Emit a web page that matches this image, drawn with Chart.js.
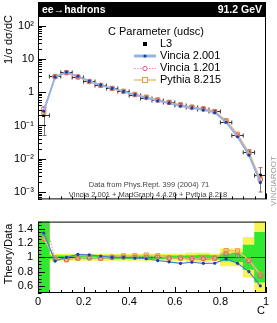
<!DOCTYPE html>
<html>
<head>
<meta charset="utf-8">
<script src="https://cdn.jsdelivr.net/npm/chart.js@4.4.1/dist/chart.umd.min.js"></script>
<style>
body { margin: 0; background: #fff; width: 277px; height: 323px; overflow: hidden; position: relative; }
canvas { position: absolute; left: 0; }
#main { top: 0; }
#ratio { top: 210px; }
</style>
</head>
<body>
<canvas id="main" width="277" height="210"></canvas>
<canvas id="ratio" width="277" height="113"></canvas>
<script>
// bin centres in C, bins are 0.05 wide
var binCentres = [0.025, 0.075, 0.125, 0.175, 0.225, 0.275, 0.325, 0.375, 0.425, 0.475,
                  0.525, 0.575, 0.625, 0.675, 0.725, 0.775, 0.825, 0.875, 0.925, 0.975];
var binHalf = 0.025;

// L3 data, 1/sigma dsigma/dC, with its error
var l3Data = [0.2, 3.0, 4.0, 2.9, 2.1, 1.62, 1.3, 1.05, 0.84, 0.69,
              0.575, 0.5, 0.42, 0.36, 0.32, 0.265, 0.128, 0.05, 0.016, 0.0032];
var l3Err = [0.15, 0.06, 0.08, 0.06, 0.04, 0.03, 0.026, 0.021, 0.017, 0.014,
             0.012, 0.01, 0.008, 0.009, 0.01, 0.007, 0.0064, 0.003, 0.0026, 0.0022];
// relative data uncertainty, inner (green) and outer (yellow) band
var errGreen = [0.75, 0.02, 0.02, 0.02, 0.02, 0.02, 0.02, 0.02, 0.02, 0.02,
                0.02, 0.02, 0.02, 0.025, 0.03, 0.025, 0.05, 0.06, 0.17, 0.35];
var errYellow = [1.0, 0.045, 0.045, 0.045, 0.045, 0.045, 0.045, 0.045, 0.045, 0.045,
                 0.045, 0.045, 0.045, 0.06, 0.06, 0.05, 0.12, 0.12, 0.28, 0.7];

// theory curves
var vincia2 = [0.268, 2.84, 4.0, 3.02, 2.17, 1.65, 1.3, 1.05, 0.832, 0.676,
               0.549, 0.468, 0.384, 0.335, 0.293, 0.243, 0.125, 0.0458, 0.0128, 0.00192];
var vincia1 = [0.32, 2.91, 3.88, 2.87, 2.08, 1.6, 1.3, 1.05, 0.84, 0.69,
               0.575, 0.495, 0.416, 0.353, 0.314, 0.262, 0.134, 0.051, 0.0152, 0.00237];
var pythia = [0.253, 2.97, 3.86, 2.87, 2.1, 1.6, 1.3, 1.07, 0.857, 0.711,
              0.587, 0.495, 0.416, 0.356, 0.317, 0.262, 0.14, 0.0545, 0.0154, 0.00243];

// tick labels
var mainTickValues = [1e-3, 1e-2, 1e-1, 1, 10, 100];
var mainTickLabels = ['10\u207B\u00B3', '10\u207B\u00B2', '10\u207B\u00B9', '1', '10', '10\u00B2'];
var ratioTickValues = [0.6, 0.8, 1, 1.2, 1.4];
var ratioTickLabels = ['0.6', '0.8', '1', '1.2', '1.4'];
var xTickValues = [0, 0.2, 0.4, 0.6, 0.8, 1];
var xTickLabels = ['0', '0.2', '0.4', '0.6', '0.8', '1'];

var FONT = "'Liberation Sans', Arial, sans-serif";

function pts(arr) {
  return binCentres.map(function (c, i) { return { x: c, y: arr[i] }; });
}
function ratioPts(arr) {
  return binCentres.map(function (c, i) { return { x: c, y: arr[i] / l3Data[i] }; });
}
function labelFrom(values, labels) {
  return function (v) {
    for (var i = 0; i < values.length; i++) if (Math.abs(values[i] - v) < 1e-9 * Math.max(1, v)) return labels[i];
    return '';
  };
}

var styles = {
  v2: { line: '#94b4e6', ratioLine: '#4f7fd2', mark: '#1b3fa6' },
  v1: { line: '#ee88a2', mark: '#d9607e' },
  py: { line: '#e9c27a', mark: '#dc9a44' }
};

function theorySets(mk, ratio) {
  return [
    {
      label: 'Pythia 8.215', data: mk(pythia), order: 3,
      borderColor: styles.py.line, borderWidth: 1.5,
      pointStyle: 'rect', pointRadius: 3, pointBorderWidth: 1,
      pointBorderColor: styles.py.mark, pointBackgroundColor: 'rgba(236,180,110,0.3)'
    },
    {
      label: 'Vincia 1.201', data: mk(vincia1), order: 2,
      borderColor: styles.v1.line, borderWidth: 1, borderDash: [1.5, 1.5],
      pointStyle: 'circle', pointRadius: 2.2, pointBorderWidth: 1,
      pointBorderColor: styles.v1.mark, pointBackgroundColor: 'rgba(255,255,255,0)'
    },
    {
      label: 'Vincia 2.001', data: mk(vincia2), order: 1,
      borderColor: ratio ? styles.v2.ratioLine : styles.v2.line, borderWidth: ratio ? 1.2 : 1.8,
      pointStyle: 'circle', pointRadius: 1.6, pointBorderWidth: 0,
      pointBorderColor: styles.v2.mark, pointBackgroundColor: styles.v2.mark
    }
  ];
}

function drawXTicks(c, sx, bottom) {
  c.strokeStyle = '#000';
  c.lineWidth = 1;
  for (var k = 0; k <= 20; k++) {
    var v = k * 0.05;
    var px = Math.round(sx.getPixelForValue(v)) + 0.5;
    var len = (k % 4 === 0) ? 6 : 3;
    c.beginPath(); c.moveTo(px, bottom); c.lineTo(px, bottom - len); c.stroke();
  }
}

// ---------- main panel ----------
var mainDecor = {
  id: 'mainDecor',
  beforeDatasetsDraw: function (chart) {
    var c = chart.ctx, a = chart.chartArea, sx = chart.scales.x, sy = chart.scales.y;
    c.save();
    c.beginPath(); c.rect(a.left, a.top, a.right - a.left, a.bottom - a.top); c.clip();
    c.strokeStyle = '#333'; c.lineWidth = 1;
    binCentres.forEach(function (bc, i) {
      var x0 = sx.getPixelForValue(bc - binHalf), x1 = sx.getPixelForValue(bc + binHalf);
      var px = Math.round(sx.getPixelForValue(bc)) + 0.5;
      var py = Math.round(sy.getPixelForValue(l3Data[i])) + 0.5;
      c.beginPath(); c.moveTo(x0, py); c.lineTo(x1, py); c.stroke();
      c.beginPath(); c.moveTo(x0, py - 2); c.lineTo(x0, py + 2); c.moveTo(x1, py - 2); c.lineTo(x1, py + 2); c.stroke();
      var yt = sy.getPixelForValue(l3Data[i] + l3Err[i]);
      var yb = sy.getPixelForValue(Math.max(l3Data[i] - l3Err[i], 1e-6));
      if (yb - yt > 4) {
        c.strokeStyle = '#777';
        c.beginPath(); c.moveTo(px, yt); c.lineTo(px, yb);
        c.moveTo(px - 2, yt); c.lineTo(px + 2, yt); c.moveTo(px - 2, yb); c.lineTo(px + 2, yb);
        c.stroke();
        c.strokeStyle = '#333';
      }
    });
    c.restore();
  },
  afterDraw: function (chart) {
    var c = chart.ctx, a = chart.chartArea, sx = chart.scales.x, sy = chart.scales.y;
    c.save();
    // frame
    c.strokeStyle = '#000'; c.lineWidth = 1;
    c.strokeRect(a.left + 0.5, a.top + 0.5, a.right - a.left - 1, a.bottom - a.top - 1);
    // log ticks on the left
    for (var e = -4; e <= 2; e++) {
      for (var m = 1; m <= 9; m++) {
        var v = m * Math.pow(10, e);
        if (v < sy.min || v > sy.max) continue;
        var py = Math.round(sy.getPixelForValue(v)) + 0.5;
        var len = m === 1 ? 8 : 4;
        c.beginPath(); c.moveTo(a.left, py); c.lineTo(a.left + len, py); c.stroke();
      }
    }
    drawXTicks(c, sx, a.bottom);
    // header bar
    c.fillStyle = '#000';
    c.fillRect(a.left, 2, a.right - a.left, a.top - 2);
    c.fillStyle = '#fff';
    c.font = 'bold 10.5px ' + FONT;
    c.textBaseline = 'alphabetic';
    c.textAlign = 'left';
    c.fillText('ee\u2192hadrons', a.left + 4, 13);
    c.textAlign = 'right';
    c.fillText('91.2 GeV', a.right - 4, 13);
    // title
    c.font = '11px ' + FONT;
    c.fillStyle = '#000';
    c.textAlign = 'center';
    c.fillText('C Parameter (udsc)', 156, 35);
    // legend
    var lx0 = 134, lx1 = 156, lmid = 145, tx = 160;
    var rows = [44, 56, 68, 80];
    c.textAlign = 'left'; c.textBaseline = 'middle';
    c.fillStyle = '#000';
    c.fillRect(lmid - 2, rows[0] - 2, 4, 4);
    c.fillText('L3', tx, rows[0]);
    // Vincia 2.001
    c.strokeStyle = styles.v2.line; c.lineWidth = 3;
    c.beginPath(); c.moveTo(lx0, rows[1]); c.lineTo(lx1, rows[1]); c.stroke();
    c.fillStyle = styles.v2.mark;
    c.beginPath(); c.arc(lmid, rows[1], 1.6, 0, Math.PI * 2); c.fill();
    c.fillStyle = '#000'; c.fillText('Vincia 2.001', tx, rows[1]);
    // Vincia 1.201
    c.strokeStyle = styles.v1.line; c.lineWidth = 1; c.setLineDash([1.5, 1.5]);
    c.beginPath(); c.moveTo(lx0, rows[2] + 0.5); c.lineTo(lx1, rows[2] + 0.5); c.stroke();
    c.setLineDash([]);
    c.strokeStyle = styles.v1.mark; c.fillStyle = '#fff';
    c.beginPath(); c.arc(lmid, rows[2] + 0.5, 2.2, 0, Math.PI * 2); c.fill(); c.stroke();
    c.fillStyle = '#000'; c.fillText('Vincia 1.201', tx, rows[2]);
    // Pythia 8.215
    c.strokeStyle = styles.py.line; c.lineWidth = 1.5;
    c.beginPath(); c.moveTo(lx0, rows[3]); c.lineTo(lx1, rows[3]); c.stroke();
    c.strokeStyle = styles.py.mark; c.lineWidth = 1; c.fillStyle = '#fff';
    c.fillRect(lmid - 3, rows[3] - 3, 6, 6); c.strokeRect(lmid - 2.5, rows[3] - 2.5, 5, 5);
    c.fillStyle = '#000'; c.fillText('Pythia 8.215', tx, rows[3]);
    // source text
    c.font = '7.5px ' + FONT; c.fillStyle = '#444'; c.textAlign = 'center'; c.textBaseline = 'alphabetic';
    c.fillText('Data from Phys.Rept. 399 (2004) 71', 149, 187);
    c.fillText('Vincia 2.001 + MadGraph 4.4.26 + Pythia 8.218', 148, 197);
    // y title
    c.font = '11px ' + FONT; c.fillStyle = '#000';
    c.translate(12, 15); c.rotate(-Math.PI / 2);
    c.textAlign = 'right'; c.textBaseline = 'alphabetic';
    c.fillText('1/\u03C3 d\u03C3/dC', 0, 0);
    c.restore();
    // VinciaRoot tag
    c.save();
    c.font = '8px ' + FONT; c.fillStyle = '#999';
    c.translate(274, 181); c.rotate(-Math.PI / 2);
    c.textAlign = 'center'; c.textBaseline = 'middle';
    c.fillText('VINCIAROOT', 0, 0);
    c.restore();
  }
};

new Chart(document.getElementById('main'), {
  type: 'line',
  data: {
    datasets: [
      {
        label: 'L3', data: pts(l3Data), order: 4, showLine: false,
        pointStyle: 'rect', pointRadius: 2.2, pointBorderWidth: 0,
        pointBackgroundColor: '#000', pointBorderColor: '#000'
      }
    ].concat(theorySets(pts, false))
  },
  options: {
    responsive: false, animation: false, devicePixelRatio: 1,
    layout: { padding: { top: 16, right: 11, left: 0, bottom: 0 } },
    plugins: { legend: { display: false }, tooltip: { enabled: false } },
    scales: {
      x: {
        type: 'linear', min: 0, max: 1, offset: false,
        grid: { display: false, drawTicks: false }, border: { display: false },
        ticks: { display: false },
        afterFit: function (s) { s.height = 3; }
      },
      y: {
        type: 'logarithmic', min: Math.pow(10, -3.22), max: Math.pow(10, 2.29),
        grid: { display: false, drawTicks: false }, border: { display: false },
        afterBuildTicks: function (s) { s.ticks = mainTickValues.map(function (v) { return { value: v }; }); },
        ticks: {
          padding: 4, color: '#000', font: { family: FONT, size: 11 },
          callback: labelFrom(mainTickValues, mainTickLabels)
        },
        afterFit: function (s) { s.width = 38; }
      }
    }
  },
  plugins: [mainDecor]
});

// ---------- ratio panel ----------
function bandSet(rel, color, order) {
  return {
    type: 'bar', order: order, grouped: false,
    data: binCentres.map(function (c, i) { return { x: c, y: [1 - rel[i], 1 + rel[i]] }; }),
    backgroundColor: color, borderWidth: 0,
    barPercentage: 1, categoryPercentage: 1
  };
}

var ratioDecor = {
  id: 'ratioDecor',
  afterDraw: function (chart) {
    var c = chart.ctx, a = chart.chartArea, sx = chart.scales.x, sy = chart.scales.y;
    c.save();
    c.strokeStyle = '#000'; c.lineWidth = 1;
    c.strokeRect(a.left + 0.5, a.top + 0.5, a.right - a.left - 1, a.bottom - a.top - 1);
    for (var k = 10; k <= 30; k++) {
      var v = k * 0.05;
      var py = Math.round(sy.getPixelForValue(v)) + 0.5;
      var len = (k % 4 === 0) ? 7 : 3.5;
      c.beginPath(); c.moveTo(a.left, py); c.lineTo(a.left + len, py); c.stroke();
    }
    drawXTicks(c, sx, a.bottom);
    c.font = '11px ' + FONT; c.fillStyle = '#000';
    c.textAlign = 'right'; c.textBaseline = 'alphabetic';
    c.fillText('C', a.right - 1, 104);
    c.translate(12, 44); c.rotate(-Math.PI / 2);
    c.textAlign = 'center';
    c.fillText('Theory/Data', 0, 0);
    c.restore();
  }
};

var unityLine = {
  id: 'unityLine',
  afterDatasetDraw: function (chart, args) {
    // after the two bands, before the theory lines
    if (args.index !== 1) return;
    var c = chart.ctx, a = chart.chartArea, sy = chart.scales.y;
    var py = Math.round(sy.getPixelForValue(1)) + 0.5;
    c.save();
    c.strokeStyle = '#1d4d1d'; c.lineWidth = 1;
    c.beginPath(); c.moveTo(a.left, py); c.lineTo(a.right, py); c.stroke();
    c.restore();
  }
};

new Chart(document.getElementById('ratio'), {
  type: 'line',
  data: {
    datasets: [
      bandSet(errYellow, '#f4f453', 6),
      bandSet(errGreen, '#2fe82f', 5)
    ].concat(theorySets(ratioPts, true))
  },
  options: {
    responsive: false, animation: false, devicePixelRatio: 1,
    layout: { padding: { top: 5, right: 11, left: 0, bottom: 0 } },
    plugins: { legend: { display: false }, tooltip: { enabled: false } },
    scales: {
      x: {
        type: 'linear', min: 0, max: 1, offset: false,
        grid: { display: false, drawTicks: false }, border: { display: false },
        afterBuildTicks: function (s) { s.ticks = xTickValues.map(function (v) { return { value: v }; }); },
        ticks: { padding: 2, color: '#000', font: { family: FONT, size: 11 }, maxRotation: 0,
                 callback: labelFrom(xTickValues, xTickLabels) },
        afterFit: function (s) { s.height = 30; }
      },
      y: {
        type: 'linear', min: 0.5, max: 1.5,
        grid: { display: false, drawTicks: false }, border: { display: false },
        afterBuildTicks: function (s) { s.ticks = ratioTickValues.map(function (v) { return { value: v }; }); },
        ticks: { padding: 5, color: '#000', font: { family: FONT, size: 11 },
                 callback: labelFrom(ratioTickValues, ratioTickLabels) },
        afterFit: function (s) { s.width = 38; }
      }
    }
  },
  plugins: [unityLine, ratioDecor]
});
</script>
</body>
</html>
